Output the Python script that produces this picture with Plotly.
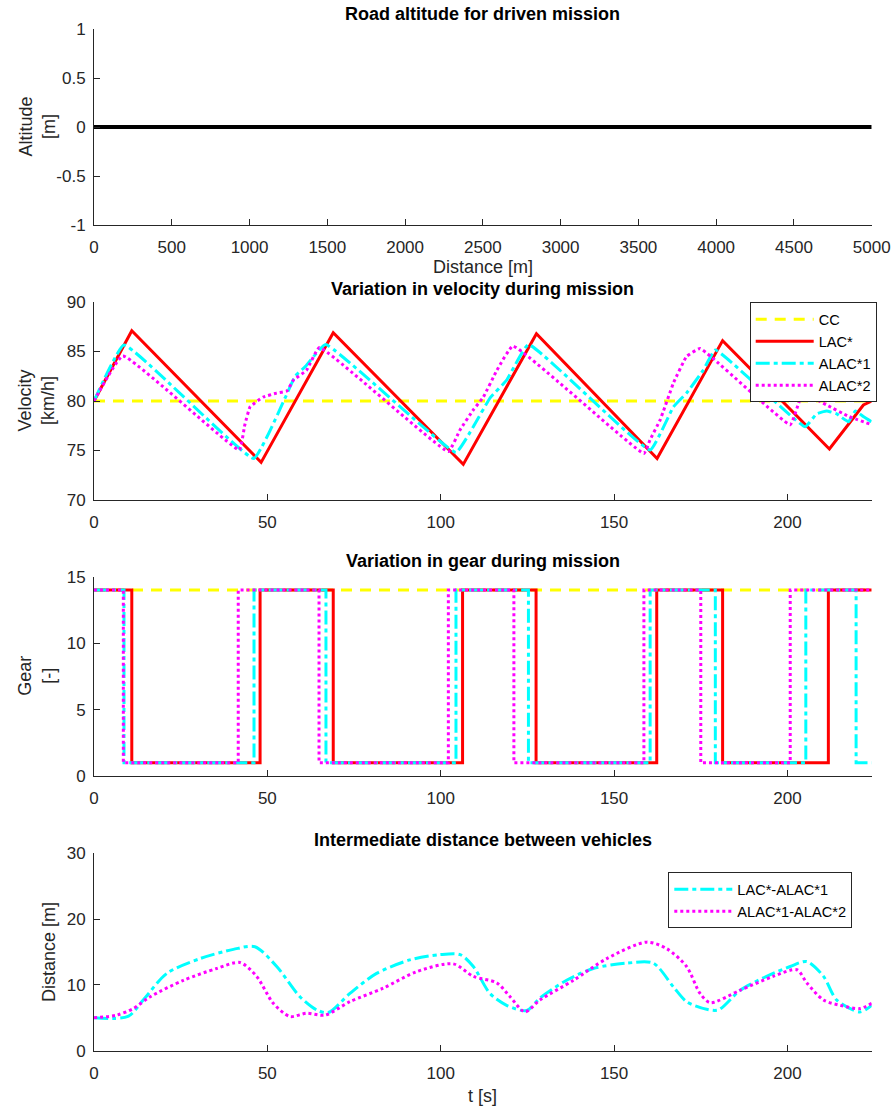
import plotly.graph_objects as go

W, H = 895, 1111

# ---------------- data ----------------
# Plot 1: road altitude
alt_distance = [0, 5000]
alt_value = [0, 0]
alt_ticks = [-1, -0.5, 0, 0.5, 1]
alt_ticktext = ["-1", "-0.5", "0", "0.5", "1"]

# Plot 2: velocity [km/h] vs time [s]
t_cc = [0, 224.3]
v_cc = [80, 80]
t_lac = [0, 10.9, 48.2, 69.0, 106.5, 127.6, 162.4, 181.3, 212.1, 218.1, 221.9, 224.3]
v_lac = [80, 87.1, 73.8, 86.9, 73.6, 86.8, 74.2, 86.1, 75.15, 77.9, 79.6, 80.0]
t_alac1 = [0, 8.66, 46.1, 55.1, 58.0, 61.0, 66.8, 104.4, 109.4, 114.2, 119.0, 125.3,
           160.4, 167.1, 170.9, 175.7, 179.2, 205.1, 208.4, 211.3, 214.2, 217.6, 219.6, 222.0, 224.3]
v_alac1 = [80, 85.65, 74.2, 80.3, 82.5, 83.5, 85.7, 74.8, 77.4, 80.3, 82.1, 85.7,
           75.05, 79.4, 80.8, 83.1, 85.15, 77.4, 78.7, 79.0, 78.7, 77.9, 79.0, 78.4, 77.9]
t_alac2 = [0, 8.3, 41.9, 43.5, 45.0, 48.8, 52.7, 55.6, 57.5, 61.3, 65.0, 102.2, 105.6, 109.4,
           112.3, 116.2, 120.8, 158.6, 160.4, 163.3, 167.1, 170.9, 174.8, 200.8, 203.6, 205.6,
           211.3, 217.6, 224.3]
v_alac2 = [80, 84.55, 75.05, 77.6, 79.4, 80.4, 80.8, 81.0, 82.1, 83.1, 85.4, 74.9, 77.1, 79.1,
           80.4, 83.1, 85.55, 74.7, 76.1, 78.1, 81.8, 84.5, 85.3, 77.6, 80.1, 80.6,
           79.6, 78.45, 77.6]

# Plot 3: gear (switch times, gear after switch)
tg_cc = [0, 224.3]
g_cc = [14, 14]
tg_lac = [0, 10.9, 47.9, 69.0, 106.3, 127.5, 162.3, 181.3, 211.8, 224.3]
g_lac = [14, 1, 14, 1, 14, 1, 14, 1, 14, 14]
tg_alac1 = [0, 8.65, 46.15, 66.9, 104.4, 125.3, 160.4, 179.2, 205.3, 219.8, 224.3]
g_alac1 = [14, 1, 14, 1, 14, 1, 14, 1, 14, 1, 1]
tg_alac2 = [0, 8.46, 41.6, 64.9, 102.2, 121.1, 158.6, 175.0, 200.8, 224.3]
g_alac2 = [14, 1, 14, 1, 14, 1, 14, 1, 14, 14]

# Plot 4: intermediate distance [m]
td_1 = [0, 9.8, 14.2, 21.0, 30.6, 40.2, 46.4, 52.7, 59.4, 64.2, 67.6, 73.8, 81.5, 91.1, 99.8,
        105.6, 109.4, 114.2, 119.0, 124.8, 128.6, 136.3, 144.0, 153.6, 161.3, 167.1, 170.9,
        176.7, 180.1, 186.4, 194.0, 200.8, 205.6, 210.4, 214.2, 220.9, 224.3]
d_1 = [5.0, 5.2, 7.7, 11.75, 14.0, 15.4, 15.8, 12.8, 8.2, 6.2, 5.8, 8.7, 11.75, 13.8, 14.6,
       14.6, 12.8, 8.7, 6.9, 6.1, 8.0, 10.7, 12.5, 13.3, 13.3, 9.7, 7.45,
       6.3, 6.2, 9.2, 11.3, 12.8, 13.55, 11.3, 7.7, 5.9, 6.9]
td_2 = [0, 6.5, 11.3, 16.2, 25.8, 35.4, 42.1, 46.9, 51.7, 56.5, 61.3, 66.6, 73.8, 83.4, 93.0,
        103.6, 109.4, 116.2, 120.0, 124.3, 128.6, 138.3, 147.9, 159.4, 165.2, 170.9, 174.8,
        177.7, 186.4, 195.9, 202.7, 205.6, 210.4, 215.2, 220.9, 224.3]
d_2 = [5.0, 5.4, 6.4, 8.2, 10.7, 12.5, 13.4, 11.3, 7.2, 5.2, 5.7, 5.4, 7.45, 9.5, 12.0,
       13.2, 11.3, 10.3, 8.2, 5.9, 7.7, 10.7, 14.0, 16.5, 15.5, 12.8, 8.7,
       7.3, 9.2, 11.3, 12.3, 10.3, 7.7, 6.9, 6.4, 7.2]

# ---------------- styling ----------------
YELLOW, RED, CYAN, MAGENTA = "#FFFF00", "#FF0000", "#00FFFF", "#FF00FF"
DASH_Y = "11px,8px"
DASH_C = "14px,4px,4px,4px"
DASH_M = "3px,3px"
FONT = "Liberation Sans, Arial, Helvetica, sans-serif"
AXC = "#262626"
LW = 3

fig = go.Figure()

# plot 1
fig.add_trace(go.Scatter(x=alt_distance, y=alt_value, mode="lines",
                         line=dict(color="black", width=4), showlegend=False,
                         xaxis="x", yaxis="y"))
# plot 2
fig.add_trace(go.Scatter(x=t_cc, y=v_cc, mode="lines", name="CC",
                         line=dict(color=YELLOW, width=LW, dash=DASH_Y),
                         xaxis="x2", yaxis="y2", legend="legend"))
fig.add_trace(go.Scatter(x=t_lac, y=v_lac, mode="lines", name="LAC*",
                         line=dict(color=RED, width=LW),
                         xaxis="x2", yaxis="y2", legend="legend"))
fig.add_trace(go.Scatter(x=t_alac1, y=v_alac1, mode="lines", name="ALAC*1",
                         line=dict(color=CYAN, width=LW, dash=DASH_C, shape="spline", smoothing=0.3),
                         xaxis="x2", yaxis="y2", legend="legend"))
fig.add_trace(go.Scatter(x=t_alac2, y=v_alac2, mode="lines", name="ALAC*2",
                         line=dict(color=MAGENTA, width=LW, dash=DASH_M, shape="spline", smoothing=0.3),
                         xaxis="x2", yaxis="y2", legend="legend"))
# plot 3
fig.add_trace(go.Scatter(x=tg_cc, y=g_cc, mode="lines", showlegend=False,
                         line=dict(color=YELLOW, width=LW, dash=DASH_Y), xaxis="x3", yaxis="y3"))
fig.add_trace(go.Scatter(x=tg_lac, y=g_lac, mode="lines", showlegend=False,
                         line=dict(color=RED, width=LW, shape="hv"), xaxis="x3", yaxis="y3"))
fig.add_trace(go.Scatter(x=tg_alac1, y=g_alac1, mode="lines", showlegend=False,
                         line=dict(color=CYAN, width=LW, dash=DASH_C, shape="hv"), xaxis="x3", yaxis="y3"))
fig.add_trace(go.Scatter(x=tg_alac2, y=g_alac2, mode="lines", showlegend=False,
                         line=dict(color=MAGENTA, width=LW, dash=DASH_M, shape="hv"), xaxis="x3", yaxis="y3"))
# plot 4
fig.add_trace(go.Scatter(x=td_1, y=d_1, mode="lines", name="LAC*-ALAC*1",
                         line=dict(color=CYAN, width=LW, dash=DASH_C, shape="spline", smoothing=0.8),
                         xaxis="x4", yaxis="y4", legend="legend2"))
fig.add_trace(go.Scatter(x=td_2, y=d_2, mode="lines", name="ALAC*1-ALAC*2",
                         line=dict(color=MAGENTA, width=LW, dash=DASH_M, shape="spline", smoothing=0.8),
                         xaxis="x4", yaxis="y4", legend="legend2"))

# ---------------- layout ----------------
X0, X1 = 94 / W, 871.7 / W
def yd(top, bot):
    return [1 - bot / H, 1 - top / H]

tickfont = dict(family=FONT, size=17, color=AXC)
common = dict(showline=True, linecolor=AXC, linewidth=1, ticks="inside", ticklen=6,
              tickwidth=1, tickcolor=AXC, showgrid=False, zeroline=False,
              tickfont=tickfont, fixedrange=True, automargin=False)

def xax(anchor, rng, dtick):
    return dict(common, domain=[X0, X1], anchor=anchor, range=rng, dtick=dtick,
                tick0=0, ticklabelstandoff=7)

def yax(anchor, dom, rng, dtick):
    return dict(common, domain=dom, anchor=anchor, range=rng, dtick=dtick,
                tick0=0, ticklabelstandoff=4)

legend_common = dict(bordercolor=AXC, borderwidth=1, bgcolor="white",
                     font=dict(family=FONT, size=14.6, color="black"),
                     tracegroupgap=0, itemwidth=58)

layout = dict(
    width=W, height=H, margin=dict(l=0, r=0, t=0, b=0, autoexpand=False),
    paper_bgcolor="white", plot_bgcolor="white",
    font=dict(family=FONT, color=AXC),
    xaxis=xax("y", [0, 5000], 500),
    yaxis=dict(yax("x", yd(29, 225), [-1, 1], 0.5), tickmode="array",
               tickvals=alt_ticks, ticktext=alt_ticktext),
    xaxis2=xax("y2", [0, 224.3], 50),
    yaxis2=yax("x2", yd(302, 500), [70, 90], 5),
    xaxis3=xax("y3", [0, 224.3], 50),
    yaxis3=yax("x3", yd(576.7, 776), [0, 15], 5),
    xaxis4=xax("y4", [0, 224.3], 50),
    yaxis4=yax("x4", yd(853.3, 1050.7), [0, 30], 10),
    legend=dict(legend_common, x=876.7 / W, xanchor="right", y=1 - 302.3 / H, yanchor="top"),
    legend2=dict(legend_common, x=852.3 / W, xanchor="right", y=1 - 872.3 / H, yanchor="top"),
)
fig.update_layout(**layout)

cx = (94 + 871.7) / 2 / W
ann = []
def title(text, ycap):
    ann.append(dict(text="<b>%s</b>" % text, x=cx, y=1 - ycap / H, xref="paper", yref="paper",
                    xanchor="center", yanchor="middle", showarrow=False,
                    font=dict(family=FONT, size=18, color="black")))
title("Road altitude for driven mission", 14)
title("Variation in velocity during mission", 289.5)
title("Variation in gear during mission", 561)
title("Intermediate distance between vehicles", 839.7)

def xlabel(text, ycen):
    ann.append(dict(text=text, x=cx, y=1 - ycen / H, xref="paper", yref="paper",
                    xanchor="center", yanchor="middle", showarrow=False,
                    font=dict(family=FONT, size=18, color=AXC)))
xlabel("Distance [m]", 266.5)
xlabel("t [s]", 1096)

def ylabel(text, xcen, top, bot):
    ann.append(dict(text=text, x=xcen / W, y=1 - (top + bot) / 2 / H, xref="paper", yref="paper",
                    xanchor="center", yanchor="middle", showarrow=False, textangle=-90,
                    font=dict(family=FONT, size=18, color=AXC)))
ylabel("Altitude<br>[m]", 36.5, 29, 225)
ylabel("Velocity<br>[km/h]", 36.5, 302, 500)
ylabel("Gear<br>[-]", 36.5, 576.7, 776)
ylabel("Distance [m]", 49, 853.3, 1050.7)

fig.update_layout(annotations=ann)
fig.write_html("out.html")
